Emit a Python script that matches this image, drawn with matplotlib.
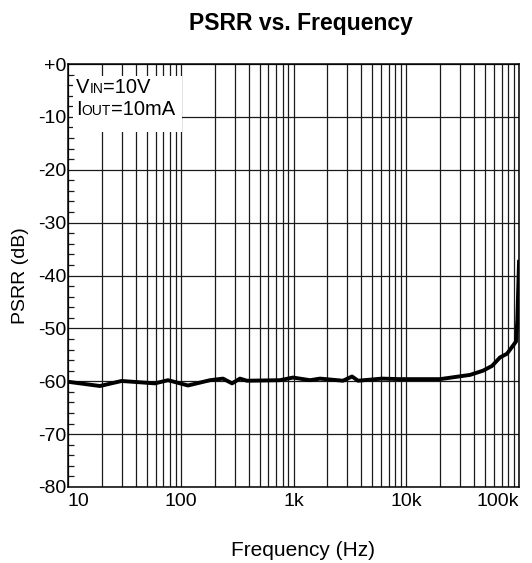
import numpy as np
import matplotlib
matplotlib.use("Agg")
import matplotlib.pyplot as plt
from matplotlib.patches import Rectangle
from matplotlib.offsetbox import TextArea, HPacker, VPacker, AnchoredOffsetbox

plt.rcParams['font.family'] = ['Liberation Sans', 'DejaVu Sans']

# PSRR curve
freq = [10, 19.2, 29.9, 59.1, 77.1, 116, 182, 237, 285, 335, 387, 759, 990,
        1400, 1718, 2748, 3303, 3734, 6093, 8806, 16250, 19900, 36750, 47960,
        57650, 67800, 78200, 94000, 96600, 100000]
psrr = [-60.1, -60.9, -59.95, -60.4, -59.8, -60.8, -59.8, -59.5, -60.4, -59.5,
        -59.9, -59.8, -59.3, -59.8, -59.5, -59.9, -59.1, -59.9, -59.5, -59.6,
        -59.6, -59.6, -58.8, -58.0, -57.1, -55.5, -54.8, -52.5, -48.4, -37.4]

xticks = [10, 100, 1000, 10000, 100000]
xlabels = ['10', '100', '1k', '10k', '100k']
yticks = [0, -10, -20, -30, -40, -50, -60, -70, -80]
ylabels = ['+0', '-10', '-20', '-30', '-40', '-50', '-60', '-70', '-80']

fig = plt.figure(figsize=(5.32, 5.63), dpi=100)
ax = fig.add_axes([0.1278, 0.135, 0.8478, 0.7513])

ax.plot(freq, psrr, color='black', lw=2.8, zorder=3, solid_joinstyle='round')

ax.set_xscale('log')
ax.set_xlim(10, 100000)
ax.set_ylim(-80, 0)
ax.set_xticks(xticks, xlabels)
ax.set_yticks(yticks, ylabels)
ax.set_yticks(np.arange(-80, 0, 2), minor=True)
ax.set_xticks([m * d for d in xticks[:-1] for m in range(2, 10)], minor=True)
ax.xaxis.set_minor_formatter(plt.NullFormatter())

ax.grid(True, which='major', axis='both', color='#1a1a1a', lw=0.9)
ax.grid(True, which='minor', axis='x', color='#1a1a1a', lw=0.9)
ax.tick_params(axis='both', which='major', length=0, labelsize=14)
ax.tick_params(axis='x', which='major', pad=4)
ax.tick_params(axis='y', which='major', pad=1)
ax.tick_params(axis='y', which='minor', direction='in', length=4, width=0.9, color='#1a1a1a')
ax.tick_params(axis='x', which='minor', length=0)
for s in ax.spines.values():
    s.set_linewidth(1.1)

labs = ax.get_xticklabels()
labs[0].set_ha('left')
labs[-1].set_ha('right')

# white label box
ax.add_patch(Rectangle((0.011, 0.839), 0.242, 0.133, transform=ax.transAxes,
                       facecolor='white', edgecolor='none', zorder=4))

def row(big, small, rest):
    return HPacker(children=[TextArea(big, textprops=dict(fontsize=14.5)),
                             TextArea(small, textprops=dict(fontsize=10)),
                             TextArea(rest, textprops=dict(fontsize=14.5))],
                   align='baseline', pad=0, sep=0)

box = VPacker(children=[row('V', 'IN', '=10V'), row('I', 'OUT', '=10mA')],
              align='left', pad=0, sep=2)
ab = AnchoredOffsetbox(loc='upper left', child=box, pad=0, borderpad=0, frameon=False,
                       bbox_to_anchor=(0.018, 0.967), bbox_transform=ax.transAxes)
ab.set_zorder(5)
ax.add_artist(ab)

fig.text(0.566, 0.959, 'PSRR vs. Frequency', ha='center', va='center',
         fontsize=16.5, fontweight='bold')
fig.text(0.0376, 0.51, 'PSRR (dB)', ha='center', va='center', rotation=90, fontsize=14)
fig.text(0.5695, 0.023, 'Frequency (Hz)', ha='center', va='center', fontsize=15)

fig.savefig('out.png', dpi=100)
